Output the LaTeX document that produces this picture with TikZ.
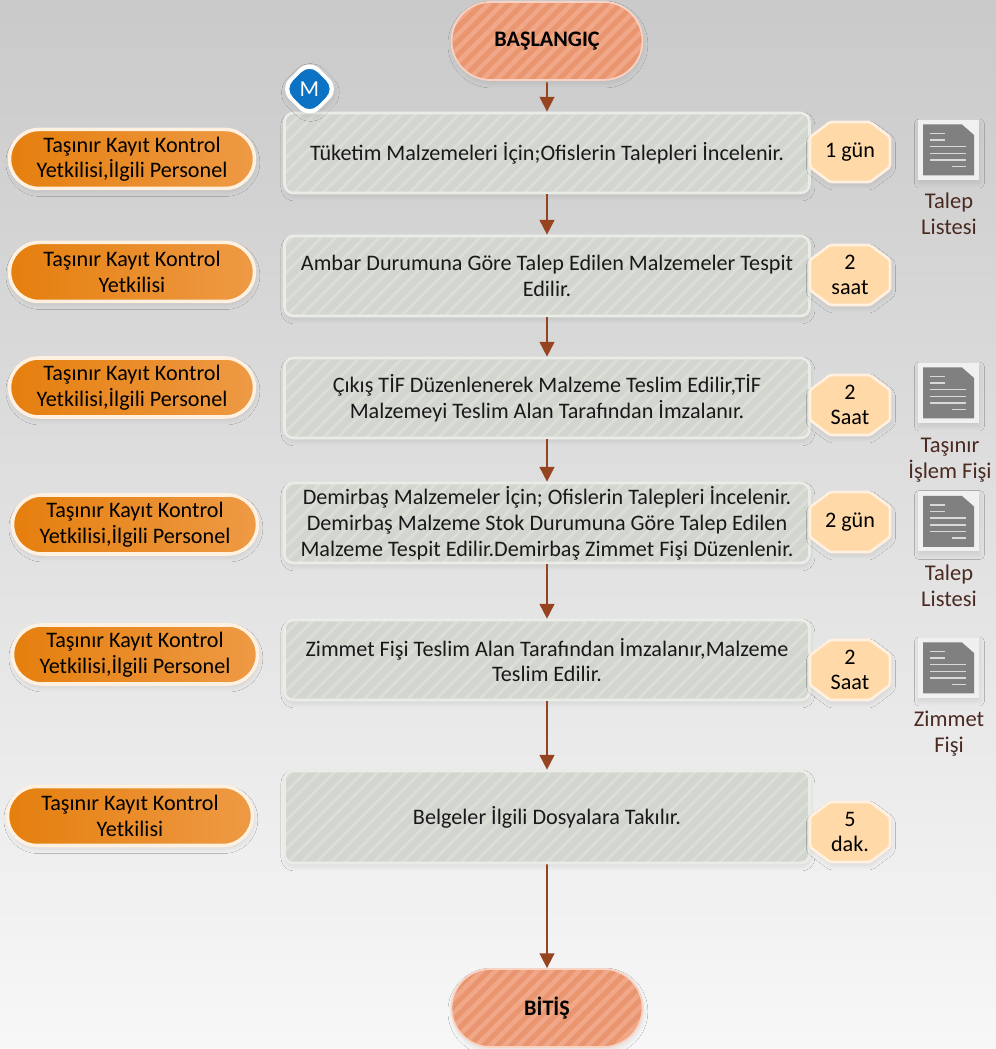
\documentclass[tikz,border=0pt]{standalone}
\usepackage{fontspec}
\setmainfont{Carlito}
\usetikzlibrary{arrows.meta}
\usetikzlibrary{patterns.meta}
\usetikzlibrary{shapes.misc}
\usetikzlibrary{shapes.geometric}
\usetikzlibrary{shadows.blur}
\definecolor{arrowbrown}{HTML}{95441F}
\definecolor{labelbrown}{HTML}{4A2A20}
\definecolor{inkblue}{HTML}{0B72C4}
\definecolor{termbase}{HTML}{E99570}
\definecolor{termstripe}{HTML}{F0A888}
\definecolor{procbase}{HTML}{D3D6CF}
\definecolor{procstripe}{HTML}{DCDFD8}
\definecolor{timefill}{HTML}{FFD9A8}
\definecolor{roledark}{HTML}{E57F0E}
\definecolor{rolelight}{HTML}{EE9A45}
\tikzset{
softshadow/.style={ % Sets the shadow under each shape
blur shadow={shadow xshift=.5pt, shadow yshift=-2pt, shadow blur radius=2.5pt, shadow blur steps=16, shadow opacity=9}},
terminal/.style={ % Sets the properties for start and end
rounded rectangle, softshadow,
minimum width=3.82cm, minimum height=1.56cm, inner xsep=0pt,
draw=termstripe!50!white, line width=1pt,
preaction={fill=termbase},
pattern={Lines[angle=45, distance=5.6pt, line width=2.6pt]},
pattern color=termstripe,
font=\fontsize{12.6}{14.5}\selectfont\bfseries},
process/.style={ % Sets the properties for each process box
rectangle, rounded corners=5pt, softshadow,
minimum width=10.5cm, minimum height=1.6cm, inner sep=0pt,
draw=procstripe!60!white, line width=1.5pt,
preaction={fill=procbase},
pattern={Lines[angle=45, distance=5.8pt, line width=1.6pt]},
pattern color=procstripe,
align=center, text=black!90,
font=\fontsize{12.6}{14.7}\selectfont},
role/.style={ % Sets the properties for each role pill
rounded rectangle, softshadow,
minimum width=4.9cm, minimum height=1.18cm, inner sep=0pt,
draw=white!88!orange, line width=2pt,
left color=roledark, right color=rolelight,
align=center,
font=\fontsize{12.6}{14.5}\selectfont},
duration/.style={ % Sets the properties for each duration label
inner sep=0pt, align=center,
font=\fontsize{12.6}{14.5}\selectfont},
doclabel/.style={ % Sets the properties for document captions
text=labelbrown, align=center,
font=\fontsize{12.8}{14.7}\selectfont},
every edge/.style={ % Sets the properties for each flow arrow
draw=arrowbrown,
-{Triangle[width=8.4pt, length=8.4pt]},
line width=1pt},
timeoct/.pic={
\draw[softshadow, fill=timefill, draw=white!88!orange, line width=1.5pt, rounded corners=1pt]
(-.4,.6) -- (.4,.6) -- (.8,.3) -- (.8,-.3) -- (.4,-.6) -- (-.4,-.6) -- (-.8,-.3) -- (-.8,.3) -- cycle;
},
docicon/.pic={
\fill[black!6, softshadow] (-.61,-.6) rectangle (.61,.6);
\fill[black!50] (-.51,-.51) -- (-.51,.51) -- (.27,.51) -- (.51,.3) -- (.51,-.51) -- cycle;
\draw[white!85!black, line width=.9pt] (-.37,.33) -- (-.07,.33);
\draw[white!85!black, line width=.9pt] (-.37,.2) -- (-.07,.2);
\draw[white!85!black, line width=.9pt] (-.37,.07) -- (.35,.07);
\draw[white!85!black, line width=.9pt] (-.37,-.07) -- (.35,-.07);
\draw[white!85!black, line width=.9pt] (-.37,-.2) -- (.35,-.2);
\draw[white!85!black, line width=.9pt] (.07,-.33) -- (.35,-.33);
}}

\begin{document}
\begin{tikzpicture}
\useasboundingbox (0,0) rectangle (19.92,20.98);
\shade[top color=black!21, bottom color=black!3] (0,0) rectangle (19.92,20.98);

\node[terminal] (start) at (10.94,20.16) {BAŞLANGIÇ};
\node[process] (step1) at (10.94,17.92) {Tüketim Malzemeleri İçin;Ofislerin Talepleri İncelenir.};
\node[process] (step2) at (10.94,15.46) {Ambar Durumuna Göre Talep Edilen Malzemeler Tespit\\Edilir.};
\node[process] (step3) at (10.94,13.02) {Çıkış TİF Düzenlenerek Malzeme Teslim Edilir,TİF\\Malzemeyi Teslim Alan Tarafından İmzalanır.};
\node[process] (step4) at (10.94,10.52) {Demirbaş Malzemeler İçin; Ofislerin Talepleri İncelenir.\\Demirbaş Malzeme Stok Durumuna Göre Talep Edilen\\Malzeme Tespit Edilir.Demirbaş Zimmet Fişi Düzenlenir.};
\node[process] (step5) at (10.94,7.78) {Zimmet Fişi Teslim Alan Tarafından İmzalanır,Malzeme\\Teslim Edilir.};
\node[process, minimum height=1.84cm] (step6) at (10.94,4.64) {Belgeler İlgili Dosyalara Takılır.};
\node[terminal] (end) at (10.94,.82) {BİTİŞ};

\node[role] (role1) at (2.64,17.80) {Taşınır Kayıt Kontrol\\Yetkilisi,İlgili Personel};
\node[role] (role2) at (2.64,15.54) {Taşınır Kayıt Kontrol\\Yetkilisi};
\node[role] (role3) at (2.64,13.23) {Taşınır Kayıt Kontrol\\Yetkilisi,İlgili Personel};
\node[role] (role4) at (2.70,10.49) {Taşınır Kayıt Kontrol\\Yetkilisi,İlgili Personel};
\node[role] (role5) at (2.70,7.89) {Taşınır Kayıt Kontrol\\Yetkilisi,İlgili Personel};
\node[role] (role6) at (2.60,4.66) {Taşınır Kayıt Kontrol\\Yetkilisi};

\pic at (17,17.94) {timeoct};
\node[duration] (time1) at (17,17.94) {1 gün};
\pic at (17,15.48) {timeoct};
\node[duration] (time2) at (17,15.48) {2\\saat};
\pic at (17,12.88) {timeoct};
\node[duration] (time3) at (17,12.88) {2\\Saat};
\pic at (17,10.54) {timeoct};
\node[duration] (time4) at (17,10.54) {2 gün};
\pic at (17,7.58) {timeoct};
\node[duration] (time5) at (17,7.58) {2\\Saat};
\pic at (17,4.34) {timeoct};
\node[duration] (time6) at (17,4.34) {5\\dak.};

\pic at (18.97,17.98) {docicon};
\node[doclabel] (doc1) at (18.98,16.7) {Talep\\Listesi};
\pic at (18.97,13.12) {docicon};
\node[doclabel] (doc2) at (19,11.78) {Taşınır\\İşlem Fişi};
\pic at (18.97,10.55) {docicon};
\node[doclabel] (doc3) at (18.98,9.26) {Talep\\Listesi};
\pic at (18.97,7.62) {docicon};
\node[doclabel] (doc4) at (18.98,6.3) {Zimmet\\Fişi};

\node[diamond, rounded corners=8pt, fill=white, minimum size=1.22cm, inner sep=0pt, softshadow] (badge) at (6.19,19.2) {};
\node[diamond, rounded corners=7pt, fill=inkblue, draw=white, line width=.6pt, minimum size=1.04cm, inner sep=0pt, text=white, font=\fontsize{13}{15}\selectfont] (badgetext) at (6.19,19.2) {M};

\draw (start) edge (step1);
\draw (step1) edge (step2);
\draw (step2) edge (step3);
\draw (step3) edge (step4);
\draw (step4) edge (step5);
\draw (step5) edge (step6);
\draw (step6) edge (end);
\end{tikzpicture}
\end{document}
